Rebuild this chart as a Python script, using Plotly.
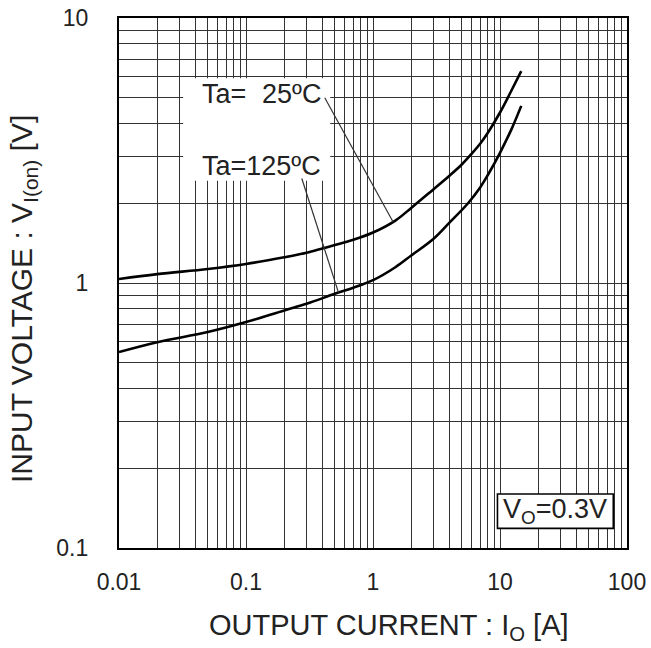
import plotly.graph_objects as go

# ---- data ----
io_25 = [0.01, 0.02, 0.05, 0.1, 0.2, 0.3, 0.4, 0.5, 0.7, 1, 1.5, 2, 3, 4, 5, 6, 7, 8, 10, 12, 14.7]
vin_25 = [1.035, 1.08, 1.13, 1.18, 1.25, 1.30, 1.35, 1.39, 1.455, 1.55, 1.72, 1.92, 2.26, 2.54, 2.80, 3.08, 3.36, 3.68, 4.4, 5.2, 6.3]

io_125 = [0.01, 0.02, 0.05, 0.1, 0.2, 0.3, 0.5, 0.7, 1, 1.5, 2, 3, 4, 5.6, 7, 8, 10, 12.3, 14.7]
vin_125 = [0.549, 0.598, 0.653, 0.712, 0.788, 0.835, 0.91, 0.96, 1.025, 1.147, 1.27, 1.47, 1.69, 2.0, 2.3, 2.55, 3.1, 3.8, 4.66]

x_tickvals = [0.01, 0.1, 1, 10, 100]
x_ticktext = ["0.01", "0.1", "1", "10", "100"]
y_tickvals = [0.1, 1, 10]
y_ticktext = ["0.1", "1", "10"]

label_25 = "25ºC"
label_125 = "Ta=125ºC"
label_ta = "Ta="
cond_label = "V<sub>O</sub>=0.3V"
x_title = "OUTPUT CURRENT : I<sub>O</sub> [A]"
y_title = "INPUT VOLTAGE : V<sub>I(on)</sub> [V]"

# minor grid positions (2..9 in every decade)
x_minor = [m * 10.0 ** e for e in range(-2, 2) for m in range(2, 10)]
y_minor = [m * 10.0 ** e for e in range(-1, 1) for m in range(2, 10)]

FONT = "Arial, Liberation Sans, sans-serif"
GRID = "#333333"

fig = go.Figure()
fig.add_trace(go.Scatter(x=io_25, y=vin_25, mode="lines",
                         line=dict(color="black", width=2.6, shape="spline", smoothing=1.0),
                         showlegend=False, hoverinfo="skip"))
fig.add_trace(go.Scatter(x=io_125, y=vin_125, mode="lines",
                         line=dict(color="black", width=2.6, shape="spline", smoothing=1.0),
                         showlegend=False, hoverinfo="skip"))

axis_common = dict(
    type="log", showgrid=True, gridcolor=GRID, gridwidth=1.2,
    showline=True, linecolor="black", linewidth=2.2, mirror=True,
    ticks="", zeroline=False, automargin=False,
    tickfont=dict(family=FONT, size=23, color="#222"),
)

fig.update_xaxes(
    **axis_common,
    range=[-2, 2],
    tickmode="array", tickvals=x_tickvals, ticktext=x_ticktext,
    ticklabelstandoff=12,
    minor=dict(tickmode="array", tickvals=x_minor, showgrid=True,
               gridcolor=GRID, gridwidth=1.2, ticks=""),
)
fig.update_yaxes(
    **axis_common,
    range=[-1, 1],
    tickmode="array", tickvals=y_tickvals, ticktext=y_ticktext,
    ticklabelstandoff=24,
    minor=dict(tickmode="array", tickvals=y_minor, showgrid=True,
               gridcolor=GRID, gridwidth=1.2, ticks=""),
)

# white area behind the temperature labels (covers grid, under the data)
fig.add_shape(type="rect", xref="x", yref="y", x0=0.032, x1=0.46, y0=2.43, y1=5.93,
              fillcolor="white", line=dict(width=0), layer="between")

# leader lines
fig.add_shape(type="line", xref="x", yref="y", x0=0.417, y0=5.0, x1=1.44, y1=1.70,
              line=dict(color="#333", width=1.2), layer="above")
fig.add_shape(type="line", xref="x", yref="y", x0=0.275, y0=2.48, x1=0.535, y1=0.92,
              line=dict(color="#333", width=1.2), layer="above")

# condition box
fig.add_shape(type="rect", xref="paper", yref="paper", x0=0.745, x1=0.973, y0=0.037, y1=0.102,
              fillcolor="white", line=dict(color="black", width=1.6), layer="above")

ann_font = dict(family=FONT, size=27, color="#222")
fig.add_annotation(xref="paper", yref="paper", x=(200 - 119) / 508, y=(548 - 94) / 530,
                   text=label_ta, showarrow=False, xanchor="left", yanchor="middle", font=ann_font)
fig.add_annotation(xref="paper", yref="paper", x=(323 - 119) / 508, y=(548 - 94) / 530,
                   text=label_25, showarrow=False, xanchor="right", yanchor="middle", font=ann_font)
fig.add_annotation(xref="paper", yref="paper", x=(323 - 119) / 508, y=(548 - 166) / 530,
                   text=label_125, showarrow=False, xanchor="right", yanchor="middle", font=ann_font)
fig.add_annotation(xref="paper", yref="paper", x=(555 - 119) / 508, y=(548 - 511) / 530,
                   text=cond_label, showarrow=False, xanchor="center", yanchor="middle", font=ann_font)

# axis titles
fig.add_annotation(xref="paper", yref="paper", x=(389 - 119) / 508, y=(548 - 627) / 530,
                   text=x_title, showarrow=False, xanchor="center", yanchor="middle",
                   font=dict(family=FONT, size=29, color="#222"))
fig.add_annotation(xref="paper", yref="paper", x=(23 - 119) / 508, y=(548 - 299) / 530,
                   text=y_title, showarrow=False, xanchor="center", yanchor="middle", textangle=-90,
                   font=dict(family=FONT, size=30, color="#222"))

fig.update_layout(
    width=651, height=648,
    margin=dict(l=119, r=24, t=18, b=100),
    paper_bgcolor="white", plot_bgcolor="white",
    showlegend=False,
)

fig.write_html("out.html", config={"displayModeBar": False},
               post_script="document.body.style.margin='0px';")
